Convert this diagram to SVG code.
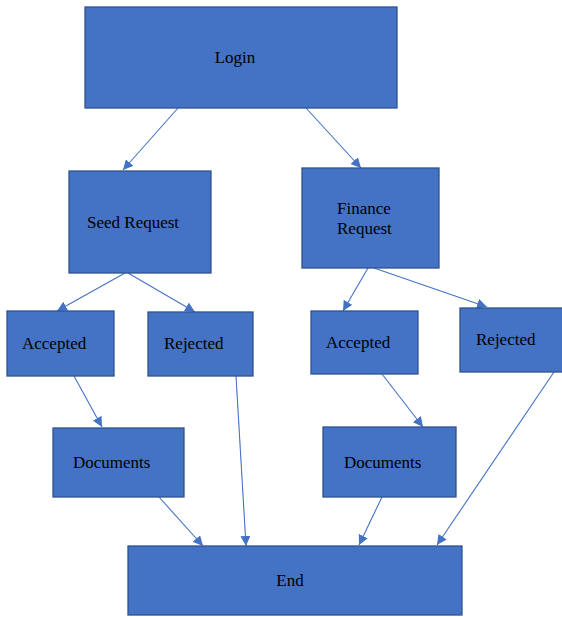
<svg xmlns="http://www.w3.org/2000/svg" width="562" height="617" viewBox="0 0 562 617">
<style>
.box{fill:#4472C4;stroke:#2F528F;stroke-width:1.3}
.t{font-family:"Liberation Serif","Times New Roman",serif;font-size:17px;fill:#000}
.c{stroke:#4472C4;stroke-width:1.1;fill:none;marker-end:url(#ah)}
</style>
<defs>
<marker id="ah" viewBox="0 0 10 10" refX="10" refY="5" markerWidth="10" markerHeight="10" markerUnits="userSpaceOnUse" orient="auto">
<path d="M0,0 L10,5 L0,10 Z" fill="#4472C4"/>
</marker>
</defs>
<rect width="562" height="617" fill="#fff"/>
<g id="connectors">
<line class="c" x1="178" y1="108" x2="123" y2="170"/>
<line class="c" x1="306" y1="108" x2="361" y2="168"/>
<line class="c" x1="125" y1="273" x2="57" y2="311"/>
<line class="c" x1="128" y1="273" x2="195" y2="312"/>
<line class="c" x1="368" y1="268" x2="343" y2="311"/>
<line class="c" x1="374" y1="268" x2="487" y2="307"/>
<line class="c" x1="74" y1="376" x2="102" y2="427"/>
<line class="c" x1="236" y1="376" x2="246" y2="546"/>
<line class="c" x1="382" y1="374" x2="423" y2="427"/>
<line class="c" x1="554" y1="372" x2="437" y2="545"/>
<line class="c" x1="159" y1="497" x2="203" y2="546"/>
<line class="c" x1="382" y1="497" x2="359" y2="545"/>
</g>
<g id="login"><rect class="box" x="85" y="7" width="312" height="101"/><text class="t" x="235" y="63" text-anchor="middle">Login</text></g>
<g id="seed"><rect class="box" x="69" y="171" width="142" height="102"/><text class="t" x="87" y="228">Seed Request</text></g>
<g id="finance"><rect class="box" x="302" y="168" width="137" height="100"/><text class="t" x="337" y="214">Finance</text><text class="t" x="337" y="234">Request</text></g>
<g id="accepted1"><rect class="box" x="7" y="311" width="107" height="65"/><text class="t" x="22" y="349">Accepted</text></g>
<g id="rejected1"><rect class="box" x="148" y="312" width="105" height="64"/><text class="t" x="164" y="349">Rejected</text></g>
<g id="accepted2"><rect class="box" x="311" y="311" width="107" height="63"/><text class="t" x="326" y="348">Accepted</text></g>
<g id="rejected2"><rect class="box" x="460" y="308" width="104" height="64"/><text class="t" x="476" y="345">Rejected</text></g>
<g id="documents1"><rect class="box" x="53" y="428" width="131" height="69"/><text class="t" x="73" y="468">Documents</text></g>
<g id="documents2"><rect class="box" x="323" y="427" width="133" height="70"/><text class="t" x="344" y="468">Documents</text></g>
<g id="end"><rect class="box" x="128" y="546" width="334" height="69"/><text class="t" x="290" y="586" text-anchor="middle">End</text></g>
</svg>
